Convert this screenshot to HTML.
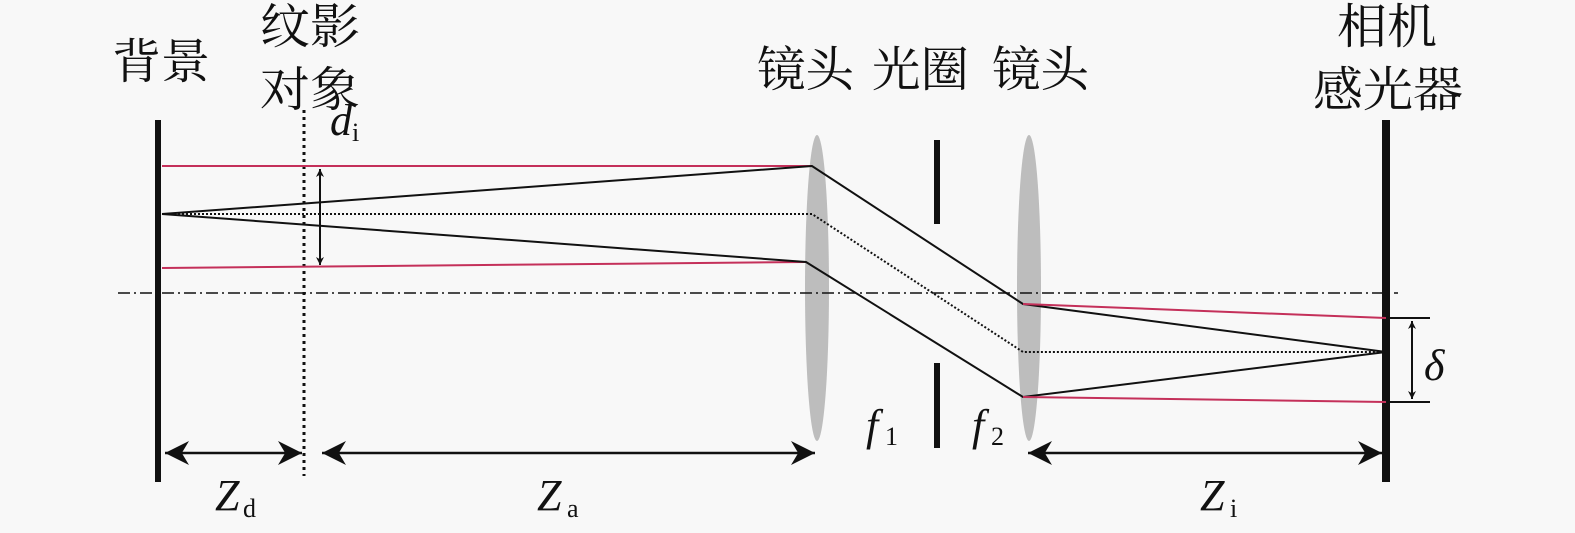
<!DOCTYPE html>
<html><head><meta charset="utf-8"><style>
html,body{margin:0;padding:0;background:#f8f8f8;}
svg{display:block}
.cn{font-family:"Liberation Serif","Noto Serif CJK SC","Noto Sans CJK SC",serif;font-size:48px;fill:#111}
.it{font-family:"Liberation Serif",serif;font-style:italic;font-size:44px;fill:#111}
.sub{font-family:"Liberation Serif",serif;font-size:26px;fill:#111}
</style></head><body>
<svg width="1575" height="533" viewBox="0 0 1575 533" xmlns="http://www.w3.org/2000/svg">
<defs>
<marker id="a" viewBox="0 0 10 10" refX="10" refY="5" markerWidth="8" markerHeight="8" markerUnits="userSpaceOnUse" orient="auto-start-reverse"><path d="M0,0 L10,5 L0,10 L3,5z" fill="#111"/></marker>
<marker id="b" viewBox="0 0 10 10" refX="10" refY="5" markerWidth="30" markerHeight="24" markerUnits="userSpaceOnUse" orient="auto-start-reverse"><path d="M0,0 L10,5 L0,10 L3,5z" fill="#111"/></marker>
</defs>
<rect width="1575" height="533" fill="#f8f8f8"/>
<ellipse cx="817" cy="288" rx="12" ry="153" fill="#bdbdbd"/>
<ellipse cx="1029" cy="288" rx="12" ry="153" fill="#bdbdbd"/>
<line x1="118" y1="293" x2="1398" y2="293" stroke="#111" stroke-width="1.6" stroke-dasharray="12,4,2,4"/>
<line x1="158" y1="120" x2="158" y2="482" stroke="#111" stroke-width="6"/>
<line x1="1386" y1="120" x2="1386" y2="482" stroke="#111" stroke-width="8"/>
<line x1="304" y1="110" x2="304" y2="476" stroke="#111" stroke-width="3" stroke-dasharray="3,4"/>
<line x1="937" y1="140" x2="937" y2="224" stroke="#111" stroke-width="6"/>
<line x1="937" y1="363" x2="937" y2="448" stroke="#111" stroke-width="6"/>
<g fill="none" stroke-width="2">
<line x1="162" y1="166" x2="812" y2="166" stroke="#c4305a"/>
<line x1="162" y1="268" x2="806" y2="262" stroke="#c4305a"/>
<polyline points="162,214 812,166 1023,304 1386,352" stroke="#111"/>
<polyline points="162,214 806,262 1023,397 1386,352" stroke="#111"/>
<polyline points="162,214 812,214 1023,352 1386,352" stroke="#111" stroke-dasharray="2,2"/>
<polyline points="1023,304 1386,318" stroke="#c4305a"/>
<polyline points="1023,397 1386,402" stroke="#c4305a"/>
<line x1="1386" y1="318" x2="1430" y2="318" stroke="#111"/>
<line x1="1386" y1="402" x2="1430" y2="402" stroke="#111"/>
</g>
<line x1="320" y1="169" x2="320" y2="265" stroke="#111" stroke-width="2" marker-start="url(#a)" marker-end="url(#a)"/>
<line x1="1412" y1="321" x2="1412" y2="399" stroke="#111" stroke-width="2" marker-start="url(#a)" marker-end="url(#a)"/>
<line x1="165" y1="453" x2="302" y2="453" stroke="#111" stroke-width="2.5" marker-start="url(#b)" marker-end="url(#b)"/>
<line x1="322" y1="453" x2="815" y2="453" stroke="#111" stroke-width="2.5" marker-start="url(#b)" marker-end="url(#b)"/>
<line x1="1028" y1="453" x2="1382" y2="453" stroke="#111" stroke-width="2.5" marker-start="url(#b)" marker-end="url(#b)"/>
<text class="cn" x="112" y="78" textLength="98" lengthAdjust="spacingAndGlyphs">背景</text>
<text class="cn" x="260" y="43" textLength="100" lengthAdjust="spacingAndGlyphs">纹影</text>
<text class="cn" x="260" y="106" textLength="100" lengthAdjust="spacingAndGlyphs">对象</text>
<text class="cn" x="757" y="86" textLength="97" lengthAdjust="spacingAndGlyphs">镜头</text>
<text class="cn" x="872" y="86" textLength="97" lengthAdjust="spacingAndGlyphs">光圈</text>
<text class="cn" x="992" y="86" textLength="97" lengthAdjust="spacingAndGlyphs">镜头</text>
<text class="cn" x="1337" y="43" textLength="100" lengthAdjust="spacingAndGlyphs">相机</text>
<text class="cn" x="1313" y="106" textLength="150" lengthAdjust="spacingAndGlyphs">感光器</text>
<text class="it" x="330" y="135">d</text><text class="sub" x="352" y="141">i</text>
<text class="it" x="1424" y="380">δ</text>
<text class="it" x="866" y="440">f</text><text class="sub" x="885" y="445">1</text>
<text class="it" x="972" y="440">f</text><text class="sub" x="991" y="445">2</text>
<text class="it" x="215" y="510">Z</text><text class="sub" x="243" y="517">d</text>
<text class="it" x="537" y="510">Z</text><text class="sub" x="567" y="517">a</text>
<text class="it" x="1200" y="510">Z</text><text class="sub" x="1230" y="517">i</text>
</svg>
</body></html>
